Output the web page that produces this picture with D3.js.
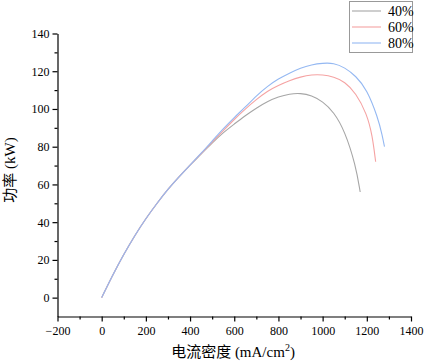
<!DOCTYPE html>
<html>
<head>
<meta charset="utf-8">
<script src="https://cdn.jsdelivr.net/npm/d3@7"></script>
<style>
  body { margin: 0; background: #fff; }
  text { font-family: "Liberation Serif", "Noto Sans CJK SC", serif; fill: #000; }
</style>
</head>
<body>
<svg width="425" height="363"></svg>
<script>
// current density (mA/cm2) and power (kW)
const x40 = [0, 50, 100, 150, 200, 250, 300, 350, 400, 450, 500, 550, 600, 650, 700, 750, 800, 850, 900, 950, 1000, 1050, 1100, 1150, 1170];
const p40 = [0, 12, 23, 33, 42, 50, 57.5, 64, 70.3, 76, 82, 87.5, 92, 96.5, 100.5, 104, 106.5, 108, 108.4, 107.2, 104, 98.5, 88.5, 70, 56];

const x60 = [0, 50, 100, 150, 200, 250, 300, 350, 400, 450, 500, 550, 600, 650, 700, 750, 800, 850, 900, 950, 1000, 1050, 1100, 1150, 1200, 1225, 1240];
const p60 = [0, 12, 23, 33, 42, 50, 57.5, 64, 70.3, 76.3, 82.5, 88.5, 94.5, 100, 105, 109.5, 112.5, 115, 117, 118.2, 118.2, 117, 114.5, 108.5, 97.5, 86, 72];

const x80 = [0, 50, 100, 150, 200, 250, 300, 350, 400, 450, 500, 550, 600, 650, 700, 750, 800, 850, 900, 950, 1000, 1050, 1100, 1150, 1200, 1250, 1270, 1280];
const p80 = [0, 12, 23, 33, 42, 50, 57.5, 64, 70.3, 76.5, 83, 89.5, 95.5, 101, 107, 112, 116, 119, 121.8, 123.5, 124.3, 124.4, 122, 117.5, 110.5, 95.5, 86, 80];

const seriesNames = ["40%", "60%", "80%"];
const seriesColors = ["#a6a6a6", "#f5a3a3", "#94b8f2"];

const xTicks = [-200, 0, 200, 400, 600, 800, 1000, 1200, 1400];
const yTicks = [0, 20, 40, 60, 80, 100, 120, 140];

const svg = d3.select("svg");

const x = d3.scaleLinear().domain([-200, 1400]).range([57.5, 411]);
const y = d3.scaleLinear().domain([-10, 140]).range([316.5, 33.5]);
const fmt = d3.format("d");

// axes
const gx = svg.append("g").attr("transform", "translate(0,316.5)");
gx.call(d3.axisBottom(x).tickValues(xTicks).tickFormat(fmt).tickSize(5).tickSizeOuter(0));
gx.append("g").call(d3.axisBottom(x).tickValues(d3.range(-100, 1400, 200)).tickSize(3).tickFormat(""))
  .select(".domain").remove();

const gy = svg.append("g").attr("transform", "translate(57.5,0)");
gy.call(d3.axisLeft(y).tickValues(yTicks).tickFormat(fmt).tickSize(5).tickSizeOuter(0));
gy.append("g").call(d3.axisLeft(y).tickValues([10, 30, 50, 70, 90, 110, 130]).tickSize(3).tickFormat(""))
  .select(".domain").remove();

svg.selectAll(".domain, .tick line").attr("stroke", "#000").attr("stroke-width", 1.2);
svg.selectAll("g").attr("font-family", null);
gx.selectAll(".tick text").attr("font-size", 12).attr("dy", "0.9em");
gy.selectAll(".tick text").attr("font-size", 12).attr("x", -8);

// axis titles
svg.append("text").attr("x", 233).attr("y", 357).attr("text-anchor", "middle").attr("font-size", 15)
  .html('电流密度 (mA/cm<tspan font-size="10" dy="-6">2</tspan><tspan dy="6">)</tspan>');
svg.append("text").attr("transform", "translate(15,170) rotate(-90)").attr("text-anchor", "middle")
  .attr("font-size", 15).text("功率 (kW)");

// curves
const line = d3.line().x(d => x(d[0])).y(d => y(d[1])).curve(d3.curveBasis);
const data = [d3.zip(x40, p40), d3.zip(x60, p60), d3.zip(x80, p80)];

svg.append("g").selectAll("path")
  .data(data)
  .join("path")
    .attr("d", line)
    .attr("fill", "none")
    .attr("stroke", (d, i) => seriesColors[i])
    .attr("stroke-width", 1.1);

// legend
const lg = svg.append("g");
lg.append("rect").attr("x", 349.5).attr("y", 1.5).attr("width", 63).attr("height", 51)
  .attr("fill", "#fff").attr("stroke", "#999").attr("stroke-width", 1);
seriesNames.forEach((n, i) => {
  const ly = 11 + i * 16;
  lg.append("line").attr("x1", 352).attr("x2", 381).attr("y1", ly).attr("y2", ly)
    .attr("stroke", seriesColors[i]).attr("stroke-width", 1.1);
  lg.append("text").attr("x", 388).attr("y", ly + 5).attr("font-size", 14).text(n);
});
</script>
</body>
</html>
